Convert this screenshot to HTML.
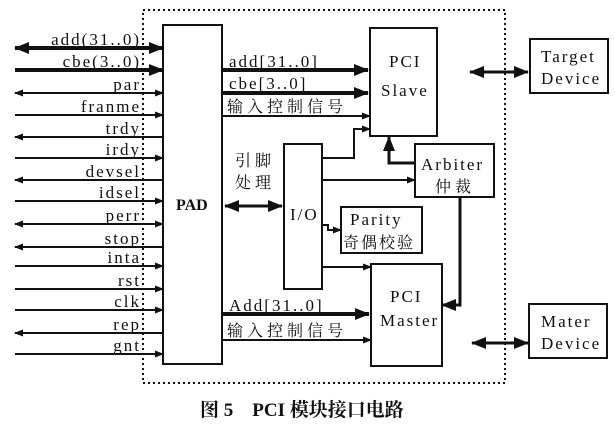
<!DOCTYPE html>
<html><head><meta charset="utf-8"><style>
body{margin:0;background:#fff;}
svg text{font-family:"Liberation Serif","Noto Serif CJK SC",serif;fill:#111;}
.l{letter-spacing:2px;}
.c{letter-spacing:4px;font-size:16px;}
</style></head><body>
<svg width="615" height="426" viewBox="0 0 615 426" xmlns="http://www.w3.org/2000/svg">
<defs>
<marker id="a" markerWidth="9" markerHeight="8" refX="8" refY="4" orient="auto-start-reverse" markerUnits="userSpaceOnUse"><path d="M0,0.5 L9,4 L0,7.5 z" fill="#111"/></marker>
<marker id="b" markerWidth="15" markerHeight="12" refX="14" refY="6" orient="auto-start-reverse" markerUnits="userSpaceOnUse"><path d="M0,0 L15,6 L0,12 z" fill="#111"/></marker>
</defs>
<rect x="143" y="10" width="362" height="373" fill="none" stroke="#111" stroke-width="2" stroke-dasharray="2,3"/>
<g fill="none" stroke="#111" stroke-width="2">
<rect x="163" y="25" width="59" height="339"/>
<rect x="370" y="28" width="67" height="108"/>
<rect x="415" y="144" width="79" height="53"/>
<rect x="341" y="207" width="81" height="46"/>
<rect x="284" y="144" width="38" height="145"/>
<rect x="371" y="264" width="71" height="102"/>
<rect x="530" y="39" width="78" height="54"/>
<rect x="529" y="304" width="78" height="54"/>
</g>
<g stroke="#111" stroke-width="2" fill="none">
<line x1="15" y1="48" x2="163" y2="48" stroke-width="4" marker-start="url(#b)" marker-end="url(#b)"/>
<line x1="15" y1="70" x2="163" y2="70" stroke-width="4" marker-end="url(#b)"/>
<line x1="15" y1="93" x2="163" y2="93" marker-start="url(#a)" marker-end="url(#a)"/>
<line x1="15" y1="115" x2="163" y2="115" marker-end="url(#a)"/>
<line x1="15" y1="137" x2="163" y2="137" marker-start="url(#a)"/>
<line x1="15" y1="158" x2="163" y2="158" marker-end="url(#a)"/>
<line x1="15" y1="180" x2="163" y2="180" marker-start="url(#a)"/>
<line x1="15" y1="201" x2="163" y2="201" marker-end="url(#a)"/>
<line x1="15" y1="224" x2="163" y2="224" marker-start="url(#a)" marker-end="url(#a)"/>
<line x1="15" y1="247" x2="163" y2="247" marker-start="url(#a)"/>
<line x1="15" y1="266" x2="163" y2="266" marker-end="url(#a)"/>
<line x1="15" y1="289" x2="163" y2="289" marker-end="url(#a)"/>
<line x1="15" y1="310" x2="163" y2="310" marker-end="url(#a)"/>
<line x1="15" y1="333" x2="163" y2="333" marker-start="url(#a)"/>
<line x1="15" y1="354" x2="163" y2="354" marker-end="url(#a)"/>
<line x1="222" y1="70" x2="368" y2="70" stroke-width="4" marker-end="url(#b)"/>
<line x1="222" y1="93" x2="368" y2="93" stroke-width="4" marker-end="url(#b)"/>
<line x1="222" y1="116" x2="370" y2="116" marker-end="url(#a)"/>
<polyline points="322,158 354,158 354,129 370,129" marker-end="url(#a)"/>
<polyline points="415,163 389,163 389,137" stroke-width="3" marker-end="url(#b)"/>
<line x1="322" y1="180" x2="415" y2="180" marker-end="url(#a)"/>
<polyline points="322,225 328,225 328,230 341,230" marker-end="url(#a)"/>
<line x1="322" y1="267" x2="371" y2="267" marker-end="url(#a)"/>
<polyline points="460,197 460,305 442,305" stroke-width="3" marker-end="url(#b)"/>
<line x1="222" y1="314" x2="369" y2="314" stroke-width="4" marker-end="url(#b)"/>
<line x1="222" y1="340" x2="371" y2="340" marker-end="url(#a)"/>
<line x1="225" y1="206" x2="282" y2="206" stroke-width="3" marker-start="url(#b)" marker-end="url(#b)"/>
<line x1="470" y1="72" x2="528" y2="72" stroke-width="3" marker-start="url(#b)" marker-end="url(#b)"/>
<line x1="472" y1="343" x2="528" y2="343" stroke-width="3" marker-start="url(#b)" marker-end="url(#b)"/>
</g>
<g font-size="17" text-anchor="end" class="l">
<text x="141" y="45">add(31..0)</text>
<text x="141" y="67">cbe(3..0)</text>
<text x="141" y="90">par</text>
<text x="141" y="112">franme</text>
<text x="141" y="134">trdy</text>
<text x="141" y="155">irdy</text>
<text x="141" y="177">devsel</text>
<text x="141" y="198">idsel</text>
<text x="141" y="221">perr</text>
<text x="141" y="244">stop</text>
<text x="141" y="263">inta</text>
<text x="141" y="286">rst</text>
<text x="141" y="307">clk</text>
<text x="141" y="330">rep</text>
<text x="141" y="351">gnt</text>
</g>
<g font-size="17">
<text x="176" y="210" font-weight="bold" font-size="16">PAD</text>
<text x="229" y="67" class="l">add[31..0]</text>
<text x="229" y="89" class="l">cbe[3..0]</text>
<text x="227" y="112" class="c">输入控制信号</text>
<text x="235" y="166" class="c">引脚</text>
<text x="235" y="188" class="c">处理</text>
<text x="290" y="220" class="l">I/O</text>
<text x="389" y="67" class="l">PCI</text>
<text x="381" y="96" class="l">Slave</text>
<text x="421" y="170" class="l">Arbiter</text>
<text x="435" y="192" class="c">仲裁</text>
<text x="350" y="225" class="l">Parity</text>
<text x="343" y="248" class="c" style="letter-spacing:2px">奇偶校验</text>
<text x="390" y="302" class="l">PCI</text>
<text x="380" y="326" class="l">Master</text>
<text x="229" y="311" class="l">Add[31..0]</text>
<text x="227" y="336" class="c">输入控制信号</text>
<text x="541" y="62" class="l">Target</text>
<text x="541" y="84" class="l">Device</text>
<text x="541" y="327" class="l">Mater</text>
<text x="541" y="349" class="l">Device</text>
<text x="200" y="416" font-weight="bold" font-size="19">图 5　PCI 模块接口电路</text>
</g>
</svg>
</body></html>
